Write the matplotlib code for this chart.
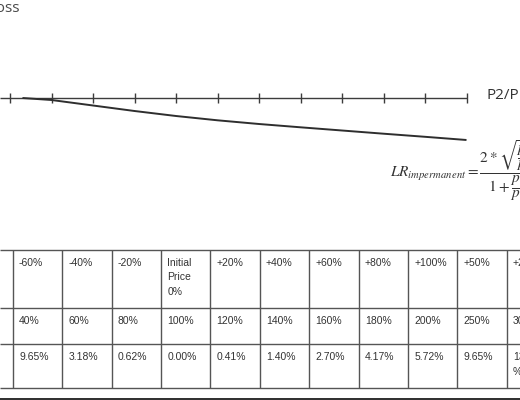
import matplotlib
matplotlib.use("Agg")
import matplotlib.pyplot as plt

plt.rcParams['mathtext.fontset'] = 'stix'

# ---- data ----
axis_ticks = [0, 1, 2, 3, 4, 5, 6, 7, 8, 9, 10, 11]
curve_x = [0.3, 1, 2, 3, 4, 5, 6, 7, 8, 9, 10, 11]
curve_depth = [0, 2, 7.5, 13, 18, 22.3, 26, 29.3, 32.5, 35.7, 38.8, 42]

header_row = ["", "-60%", "-40%", "-20%", "Initial\nPrice\n0%", "+20%", "+40%",
              "+60%", "+80%", "+100%", "+50%", "+200%"]
ratio_row = ["", "40%", "60%", "80%", "100%", "120%", "140%", "160%", "180%",
             "200%", "250%", "300%"]
loss_row = ["", "9.65%", "3.18%", "0.62%", "0.00%", "0.41%", "1.40%", "2.70%",
            "4.17%", "5.72%", "9.65%", "13.40\n%"]

title_text = "Impermanent Loss"
axis_label = "P2/P1"
formula = (r'$LR_{impermanent} = '
           r'\dfrac{2 * \sqrt{\dfrac{p_2}{p_1}}}{1 + \dfrac{p_2}{p_1}}$')

# ---- figure ----
W, H = 520, 400
fig = plt.figure(figsize=(W / 100, H / 100), dpi=100)
fig.patch.set_facecolor('white')

# chart axes (data units: tick index / loss depth)
ax = fig.add_axes([0, 0, 1, 1])
px_per_tick = 41.5
x0_px = 10
ax.set_xlim(-x0_px / px_per_tick, (W - x0_px) / px_per_tick)
ax.set_ylim(H - 98, -98)
ax.axis('off')

line_col = '#3c3c3c'
ax.hlines(0, ax.get_xlim()[0], axis_ticks[-1], color=line_col, lw=1.0)
ax.vlines(axis_ticks, -5, 5, color=line_col, lw=1.0)
ax.plot(curve_x, curve_depth, color='#2e2e2e', lw=1.4, solid_capstyle='butt')

# overlay in pixel coords for text and table
ov = fig.add_axes([0, 0, 1, 1])
ov.set_xlim(0, W)
ov.set_ylim(H, 0)
ov.axis('off')
ov.patch.set_alpha(0)

ov.text(19, 9, title_text, ha='right', va='center', fontsize=11,
        color='#4a4a4a', family='Open Sans')
ov.text(486, 95.5, axis_label, ha='left', va='center', fontsize=11,
        color='#333333', family='Open Sans')
ov.text(390, 171, formula, ha='left', va='center', fontsize=11,
        color='#333333')

# table
row_tops = [249.5, 308, 344]
table_bottom = 387.5
col_left0 = 12.7
col_w = 49.4
grid_col = '#555555'
for y in row_tops + [table_bottom]:
    ov.hlines(y, 0, W, color=grid_col, lw=1.0)
n_cols = len(header_row) - 1
for i in range(n_cols):
    x = col_left0 + i * col_w
    ov.vlines(x, row_tops[0], table_bottom, color=grid_col, lw=1.0)

rows = [header_row, ratio_row, loss_row]
for r, row in enumerate(rows):
    for c, label in enumerate(row):
        if c == 0 or not label:
            continue
        x = col_left0 + (c - 1) * col_w + 6.3
        for li, line in enumerate(label.split('\n')):
            ov.text(x, row_tops[r] + 13.5 + li * 14.5, line, ha='left',
                    va='center', fontsize=7.5, color='#333333',
                    family='Liberation Sans')

# bottom dark band
ov.axhspan(397.5, 400, color='#333333', lw=0)

fig.savefig('out.png', dpi=100, facecolor='white')
